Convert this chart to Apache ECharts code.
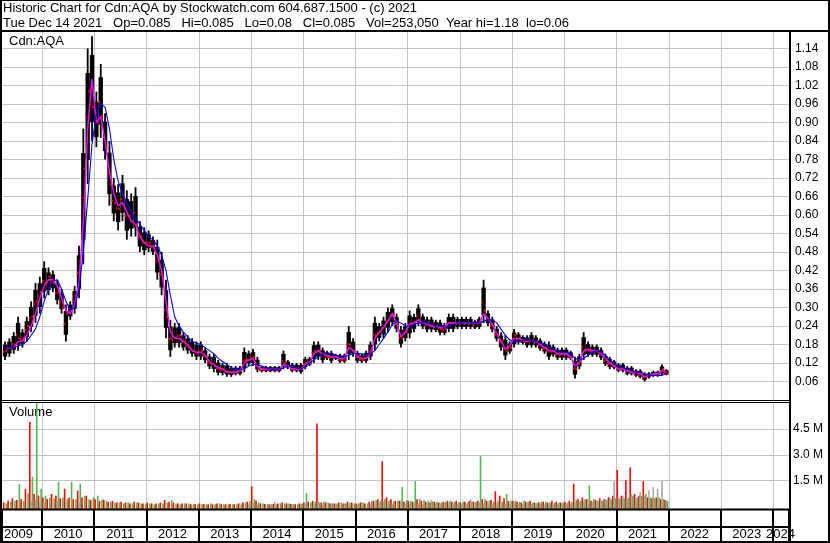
<!DOCTYPE html>
<html><head><meta charset="utf-8">
<script src="https://cdn.jsdelivr.net/npm/echarts@6/dist/echarts.min.js"></script>
<style>html,body{margin:0;padding:0;background:#fff}#c{width:830px;height:543px}</style>
</head><body><div id="c"></div>
<script>
// ---------- texts ----------
const title1 = 'Historic Chart for Cdn:AQA by Stockwatch.com 604.687.1500 - (c) 2021';
const title2 = 'Tue Dec 14 2021   Op=0.085   Hi=0.085   Lo=0.08   Cl=0.085   Vol=253,050  Year hi=1.18  lo=0.06';
const symbolLabel = 'Cdn:AQA';
const volumeLabel = 'Volume';
const yearLabels = ['2009','2010','2011','2012','2013','2014','2015','2016','2017','2018','2019','2020','2021','2022','2023','2024'];
const priceTicks = [0.06,0.12,0.18,0.24,0.30,0.36,0.42,0.48,0.54,0.60,0.66,0.72,0.78,0.84,0.90,0.96,1.02,1.08,1.14];
const volumeTicks = [1500, 3000, 4500];

// monthly data, first month = April 2009, last = December 2021
const firstYear = 2009, firstMonth = 4;
const priceHigh = [
  0.19,0.20,0.22,0.27,0.23,0.27,0.32,0.38,0.40,
  0.45,0.43,0.42,0.39,0.36,0.31,0.32,0.37,0.50,0.88,1.14,1.18,
  1.00,1.09,0.93,0.84,0.72,0.70,0.73,0.68,0.67,0.69,0.58,0.56,
  0.55,0.53,0.52,0.48,0.39,0.26,0.25,0.25,0.22,0.21,0.20,0.19,
  0.19,0.17,0.15,0.15,0.13,0.12,0.12,0.11,0.11,0.11,0.17,0.16,
  0.165,0.14,0.11,0.11,0.11,0.11,0.11,0.16,0.13,0.12,0.12,0.12,
  0.14,0.14,0.19,0.19,0.17,0.16,0.16,0.15,0.15,0.15,0.24,0.20,
  0.16,0.15,0.16,0.19,0.27,0.25,0.27,0.30,0.31,0.28,0.24,0.25,
  0.29,0.28,0.31,0.28,0.27,0.27,0.26,0.26,0.25,0.28,0.28,0.27,
  0.27,0.27,0.27,0.26,0.27,0.39,0.29,0.27,0.24,0.22,0.21,0.19,
  0.23,0.22,0.21,0.21,0.22,0.21,0.20,0.19,0.19,0.18,0.17,0.17,
  0.17,0.16,0.14,0.15,0.22,0.19,0.18,0.18,0.17,0.15,0.14,0.13,
  0.12,0.12,0.11,0.11,0.10,0.10,0.09,0.09,0.095,0.095,0.115,0.10
];
const priceLow = [
  0.13,0.14,0.15,0.16,0.17,0.19,0.22,0.25,0.28,
  0.33,0.34,0.35,0.31,0.28,0.19,0.26,0.28,0.33,0.44,0.70,0.84,
  0.82,0.85,0.78,0.63,0.58,0.55,0.58,0.52,0.53,0.53,0.48,0.47,
  0.48,0.47,0.39,0.34,0.20,0.14,0.17,0.17,0.16,0.15,0.14,0.13,
  0.13,0.12,0.10,0.09,0.08,0.08,0.075,0.075,0.08,0.08,0.09,0.11,
  0.11,0.09,0.09,0.09,0.09,0.09,0.09,0.10,0.10,0.09,0.09,0.085,
  0.10,0.11,0.12,0.13,0.12,0.13,0.12,0.13,0.12,0.12,0.13,0.14,
  0.12,0.12,0.12,0.13,0.16,0.19,0.20,0.22,0.24,0.22,0.17,0.19,
  0.20,0.22,0.24,0.23,0.22,0.22,0.22,0.21,0.21,0.22,0.22,0.23,
  0.23,0.23,0.23,0.23,0.23,0.25,0.24,0.22,0.19,0.16,0.13,0.15,
  0.17,0.18,0.18,0.17,0.17,0.17,0.16,0.15,0.13,0.14,0.13,0.13,
  0.13,0.13,0.07,0.10,0.13,0.14,0.14,0.14,0.13,0.11,0.10,0.10,
  0.09,0.09,0.08,0.08,0.075,0.07,0.06,0.07,0.075,0.075,0.08,0.08
];
const priceClose = [
  0.16,0.17,0.18,0.20,0.20,0.24,0.27,0.32,0.35,
  0.38,0.40,0.38,0.35,0.30,0.28,0.29,0.34,0.45,0.75,1.00,0.95,
  0.90,0.92,0.82,0.70,0.64,0.62,0.66,0.60,0.58,0.57,0.53,0.51,
  0.51,0.50,0.46,0.40,0.27,0.20,0.20,0.21,0.19,0.17,0.16,0.15,
  0.16,0.14,0.12,0.11,0.10,0.10,0.09,0.09,0.09,0.095,0.13,0.13,
  0.14,0.10,0.10,0.10,0.10,0.10,0.10,0.12,0.11,0.10,0.10,0.10,
  0.12,0.12,0.16,0.16,0.15,0.14,0.14,0.14,0.13,0.13,0.18,0.16,
  0.14,0.13,0.14,0.16,0.21,0.22,0.24,0.26,0.28,0.25,0.20,0.22,
  0.25,0.25,0.26,0.25,0.25,0.24,0.24,0.23,0.23,0.25,0.25,0.25,
  0.25,0.25,0.25,0.25,0.25,0.29,0.26,0.24,0.21,0.19,0.16,0.17,
  0.21,0.20,0.19,0.19,0.19,0.19,0.18,0.17,0.16,0.16,0.15,0.15,
  0.15,0.14,0.10,0.13,0.16,0.16,0.16,0.16,0.15,0.13,0.12,0.11,
  0.10,0.10,0.095,0.09,0.09,0.085,0.075,0.08,0.085,0.085,0.10,0.085
];
// short moving average (magenta) and long moving average (blue)
const maShort = [
  0.17,0.17,0.17,0.19,0.19,0.21,0.24,0.28,0.33,
  0.37,0.39,0.39,0.37,0.33,0.29,0.28,0.31,0.38,0.58,0.88,1.04,
  0.90,0.92,0.84,0.74,0.67,0.63,0.64,0.61,0.58,0.57,0.53,0.51,
  0.50,0.50,0.47,0.42,0.32,0.22,0.20,0.20,0.19,0.18,0.16,0.155,
  0.155,0.145,0.125,0.115,0.105,0.10,0.09,0.09,0.09,0.095,0.12,0.13,
  0.135,0.11,0.10,0.10,0.10,0.10,0.10,0.115,0.11,0.10,0.10,0.10,
  0.115,0.12,0.15,0.16,0.15,0.145,0.14,0.14,0.135,0.135,0.17,0.16,
  0.14,0.135,0.135,0.15,0.20,0.22,0.235,0.255,0.28,0.25,0.205,0.22,
  0.245,0.25,0.26,0.25,0.245,0.24,0.24,0.235,0.235,0.25,0.25,0.25,
  0.25,0.25,0.25,0.25,0.25,0.28,0.265,0.245,0.215,0.19,0.165,0.175,
  0.20,0.20,0.195,0.19,0.19,0.19,0.18,0.17,0.16,0.16,0.15,0.15,
  0.15,0.14,0.11,0.12,0.16,0.165,0.16,0.16,0.15,0.135,0.12,0.11,
  0.10,0.10,0.095,0.09,0.09,0.085,0.075,0.08,0.085,0.085,0.095,0.09
];
const maLong = [
  0.17,0.17,0.17,0.175,0.18,0.19,0.21,0.23,0.27,
  0.32,0.36,0.385,0.39,0.36,0.32,0.29,0.30,0.36,0.48,0.65,0.83,
  0.93,0.96,0.95,0.88,0.78,0.71,0.67,0.64,0.61,0.59,0.57,0.55,
  0.53,0.52,0.50,0.47,0.42,0.34,0.27,0.24,0.22,0.205,0.19,0.185,
  0.18,0.17,0.16,0.15,0.135,0.125,0.115,0.105,0.10,0.10,0.10,0.11,
  0.115,0.115,0.11,0.105,0.10,0.10,0.10,0.105,0.11,0.11,0.105,0.10,
  0.11,0.12,0.13,0.14,0.15,0.15,0.15,0.145,0.14,0.14,0.145,0.15,
  0.15,0.15,0.145,0.15,0.16,0.18,0.20,0.22,0.245,0.255,0.25,0.24,
  0.24,0.245,0.25,0.25,0.25,0.245,0.24,0.24,0.235,0.24,0.245,0.25,
  0.25,0.25,0.25,0.25,0.25,0.255,0.26,0.26,0.25,0.23,0.21,0.195,
  0.19,0.19,0.195,0.195,0.19,0.19,0.185,0.18,0.175,0.165,0.16,0.155,
  0.155,0.15,0.135,0.13,0.135,0.145,0.155,0.16,0.155,0.145,0.13,0.12,
  0.11,0.105,0.10,0.095,0.09,0.09,0.085,0.08,0.08,0.08,0.08,0.085
];
// monthly peak daily volume by colour, in thousands of shares
const volRed = [
  200,300,450,350,400,1000,4900,700,600,
  500,400,700,600,450,1000,500,400,900,500,600,350,
  400,300,350,250,300,200,250,200,150,250,200,150,
  200,150,150,200,350,250,200,150,150,150,100,100,
  150,120,100,100,150,100,100,120,100,150,200,250,
  1150,300,150,120,100,120,150,200,150,120,100,150,
  200,250,300,4800,200,200,150,150,200,150,250,200,
  150,200,150,250,300,400,2600,500,400,300,300,250,
  300,250,400,300,250,200,250,200,250,300,250,300,
  200,250,300,250,300,400,300,350,850,600,450,300,
  300,250,200,250,300,200,200,250,200,300,250,200,
  250,300,1300,400,500,400,300,350,450,400,500,600,
  2100,600,1500,2250,700,600,1450,500,450,500,400,350
];
const volGreen = [
  150,250,300,1270,300,750,1700,7000,1000,
  600,500,450,1400,500,400,1400,400,1300,600,400,500,
  600,350,300,250,200,200,150,200,150,200,150,100,
  150,100,150,150,200,350,150,100,150,150,100,100,
  100,100,150,100,150,100,100,100,100,100,200,300,
  400,200,150,100,100,100,150,150,150,100,100,150,
  750,200,250,200,250,200,150,150,200,150,200,150,
  150,200,150,300,350,300,400,300,250,300,1100,350,
  300,1450,400,350,300,250,250,200,250,300,250,250,
  250,200,250,250,2900,400,300,250,300,250,700,300,
  300,250,300,250,200,200,250,250,200,200,200,200,
  200,250,350,300,400,1200,400,300,300,350,400,450,
  400,450,500,600,500,600,700,500,450,500,400,300
];
const volGray = [
  0,0,0,0,0,0,300,400,200,
  200,0,0,300,0,0,0,0,200,0,0,0,
  0,0,0,0,0,0,0,0,0,0,0,0,
  0,0,0,0,0,0,0,0,0,0,0,0,
  0,0,0,0,0,0,0,0,0,0,0,100,
  150,100,0,0,100,250,0,0,150,100,0,100,
  150,0,100,300,100,0,150,100,0,150,100,0,
  100,200,0,150,100,200,250,150,100,0,300,150,
  150,200,150,100,150,350,150,100,200,150,100,150,
  150,100,400,150,200,150,100,100,150,100,100,150,
  150,100,100,200,150,100,150,100,100,150,100,150,
  100,150,200,250,300,200,250,300,350,400,500,1450,
  500,600,400,700,500,800,600,900,1100,1000,1450,300
];

// ---------- build series data ----------
const monthX = i => firstYear + (firstMonth - 1 + i + 0.5) / 12;
const ohlc = priceHigh.map((h, i) => [monthX(i), h, priceLow[i], priceClose[i]]);
const shortLine = maShort.map((v, i) => [monthX(i), v]);
const longLine = maLong.map((v, i) => [monthX(i), v]);
const vols = volRed.map((v, i) => [monthX(i), v, volGreen[i], volGray[i]]);

const X_MIN = 2009.2339, X_MAX = 2024.3077;
const FONT = 'Liberation Sans, Arial, sans-serif';
const GRIDC = '#c4c4c4';

const chart = echarts.init(document.getElementById('c'), null, {renderer: 'canvas'});

const xBase = (gi, split) => ({
  type: 'value', gridIndex: gi, min: X_MIN, max: X_MAX, splitNumber: 15,
  axisLabel: {show: false}, axisTick: {show: false}, axisLine: {show: false},
  splitLine: split ? {show: true, lineStyle: {color: '#000', width: 2}} : {show: false}
});

chart.setOption({
  backgroundColor: '#fff',
  animation: false,
  grid: [
    {left: 2, right: 41, top: 32, height: 368},
    {left: 2, right: 41, top: 403, height: 103},
    {left: 2, right: 41, top: 510, height: 31}
  ],
  xAxis: [xBase(0, false), xBase(1, false), xBase(2, true)],
  yAxis: [
    {type: 'value', gridIndex: 0, position: 'right', min: 0, max: 1.1935, interval: 0.06,
     axisLine: {show: false}, axisTick: {show: false}, splitLine: {show: false},
     axisLabel: {margin: 6, color: '#000', fontSize: 12, fontFamily: FONT, showMinLabel: false, showMaxLabel: false,
                 formatter: v => v.toFixed(2)}},
    {type: 'value', gridIndex: 1, position: 'right', min: 0, max: 6000, interval: 1500,
     axisLine: {show: false}, axisTick: {show: false}, splitLine: {show: false},
     axisLabel: {margin: 4, color: '#000', fontSize: 12, fontFamily: FONT, showMinLabel: false, showMaxLabel: false,
                 formatter: v => (v / 1000).toFixed(1) + ' M'}},
    {type: 'value', gridIndex: 2, show: false, min: 0, max: 1}
  ],
  series: [
    {type: 'custom', xAxisIndex: 0, yAxisIndex: 0, data: ohlc, z: 3,
     encode: {x: 0, y: [1, 2, 3]},
     renderItem: (params, api) => {
       const x = api.value(0);
       const pH = api.coord([x, api.value(1)]);
       const pL = api.coord([x, api.value(2)]);
       const pC = api.coord([x, api.value(3)]);
       const w = api.size([1 / 12, 0])[0];
       const r = pL[1] - pH[1];
       return {type: 'group', children: [
         // full high-low range as a thin stroke
         {type: 'rect', shape: {x: pH[0] - 0.9, y: pH[1], width: 1.8, height: Math.max(1, r)},
          style: {fill: '#000'}},
         // dense trading band
         {type: 'rect', shape: {x: pH[0] - w / 2, y: pH[1] + r * 0.18, width: w, height: Math.max(1, r * 0.64)},
          style: {fill: '#000'}},
         {type: 'rect', shape: {x: pC[0] + w / 2 - 2, y: pC[1] - 1, width: 2, height: 2},
          style: {fill: '#ff0000'}},
         {type: 'rect', shape: {x: pH[0] - w / 2, y: pH[1] + r * 0.5, width: 1.5, height: 2},
          style: {fill: '#ff0000'}}
       ]};
     }},
    {type: 'line', xAxisIndex: 0, yAxisIndex: 0, data: shortLine, showSymbol: false, symbol: 'none', z: 4,
     lineStyle: {color: '#ff00ff', width: 1.4}},
    {type: 'line', xAxisIndex: 0, yAxisIndex: 0, data: longLine, showSymbol: false, symbol: 'none', z: 5,
     lineStyle: {color: '#0000ff', width: 1.1}},
    {type: 'custom', xAxisIndex: 1, yAxisIndex: 1, data: vols, z: 3,
     encode: {x: 0, y: [1, 2, 3]},
     renderItem: (params, api) => {
       const x = api.value(0);
       const base = api.coord([x, 0]);
       const w = api.size([1 / 12, 0])[0];
       const topLimit = params.coordSys.y;
       const kids = [];
       [['#ff0000', 1, -w * 0.3], ['#a8a8a8', 3, 0], ['#4db84d', 2, w * 0.3]].forEach(([c, idx, off]) => {
         const v = api.value(idx);
         if (!v) return;
         const p = api.coord([x, v]);
         const top = Math.max(p[1], topLimit);
         kids.push({type: 'rect', shape: {x: base[0] + off - 0.8, y: top, width: 1.6, height: base[1] + 3 - top},
                    style: {fill: c}});
       });
       return {type: 'group', children: kids};
     }}
  ]
});

// ---------- grid lines, frame, texts and year labels ----------
const line = (x1, y1, x2, y2, w, c, z) => ({type: 'line', z: z === undefined ? 100 : z, silent: true,
  shape: {x1, y1, x2, y2}, style: {stroke: c || '#000', lineWidth: w}});
const text = (x, y, t, size, align, z) => ({type: 'text', x, y, z: z || 1, silent: true,
  style: {text: t, fill: '#000', font: size + 'px ' + FONT, textAlign: align || 'left', textVerticalAlign: 'middle'}});

const g = [];
const crisp = v => Math.round(v) + 0.5;
yearLabels.forEach(y => {
  const yr = +y;
  if (yr <= X_MIN || yr >= X_MAX) return;
  const px = crisp(chart.convertToPixel({xAxisIndex: 0}, yr));
  g.push(line(px, 32, px, 400, 1, GRIDC, 0));
  g.push(line(px, 403, px, 509, 1, GRIDC, 0));
});
priceTicks.forEach(v => {
  const py = crisp(chart.convertToPixel({yAxisIndex: 0}, v));
  g.push(line(2, py, 789, py, 1, GRIDC, 0));
});
volumeTicks.forEach(v => {
  const py = crisp(chart.convertToPixel({yAxisIndex: 1}, v));
  g.push(line(2, py, 789, py, 1, GRIDC, 0));
});
g.push(
  line(0, 0.5, 830, 0.5, 1),
  line(1, 0, 1, 543, 2),
  line(829, 0, 829, 543, 2),
  line(0, 542, 830, 542, 2),
  line(0, 31, 830, 31, 2),
  line(790, 31, 790, 542, 2),
  line(0, 400.5, 790, 400.5, 1),
  line(0, 402.5, 790, 402.5, 1),
  line(0, 509.5, 790, 509.5, 2),
  line(0, 527, 790, 527, 2),
  text(3, 8.5, title1, 13),
  text(3, 23, title2, 13),
  text(9, 41, symbolLabel, 13, 'left', 1),
  text(9, 412, volumeLabel, 13, 'left', 1)
);
yearLabels.forEach(y => {
  const yr = +y;
  const a = chart.convertToPixel({xAxisIndex: 2}, yr);
  const b = chart.convertToPixel({xAxisIndex: 2}, yr + 1);
  const half = 14.5;
  let cx = (a + b) / 2;
  cx = Math.max(cx, 4 + half);
  cx = Math.min(cx, 795 - half);
  g.push(text(cx, 534.5, y, 13, 'center', 50));
});
chart.setOption({graphic: g});
</script>
</body></html>
